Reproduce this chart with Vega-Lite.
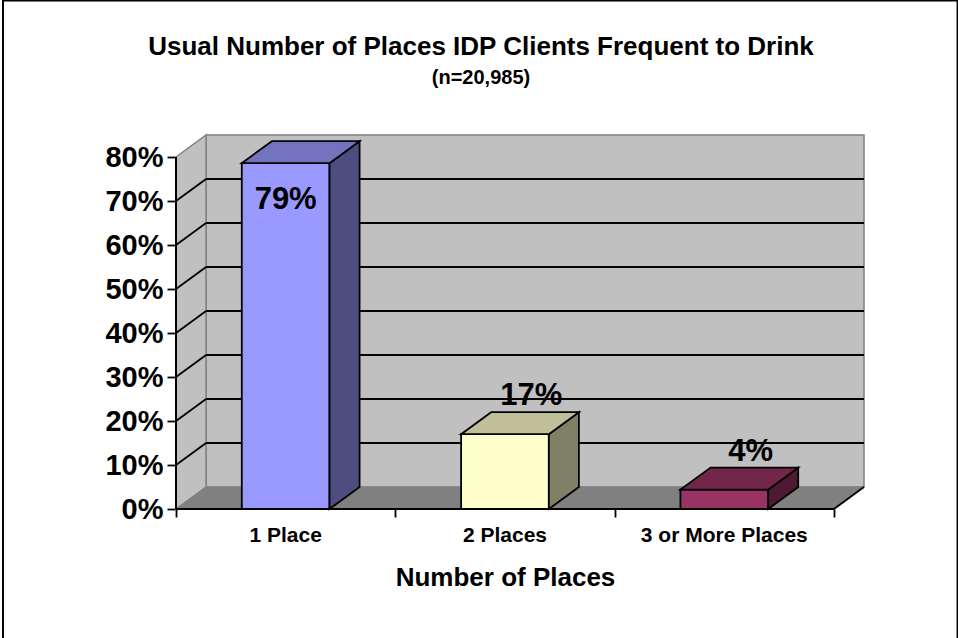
{
  "$schema": "https://vega.github.io/schema/vega-lite/v6.json",
  "autosize": {"type": "none"},
  "padding": {"left": 176, "top": 135, "right": 94, "bottom": 129},
  "width": 688,
  "height": 374,
  "background": "white",
  "config": {"view": {"stroke": null}, "font": "Liberation Sans"},
  "title": {
    "text": "Usual Number of Places IDP Clients Frequent to Drink",
    "subtitle": "(n=20,985)",
    "anchor": "middle",
    "frame": "group",
    "dx": -39,
    "font": "Liberation Sans",
    "fontSize": 26,
    "fontWeight": "bold",
    "color": "black",
    "subtitleFont": "Liberation Sans",
    "subtitleFontSize": 20,
    "subtitleFontWeight": "bold",
    "subtitleColor": "black",
    "subtitlePadding": 8,
    "offset": -89
  },
  "data": {
    "values": [
      {"place": "1 Place", "idx": 0, "pct": 78.6},
      {"place": "2 Places", "idx": 1, "pct": 17.0},
      {"place": "3 or More Places", "idx": 2, "pct": 4.4}
    ]
  },
  "resolve": {"scale": {"fill": "independent"}},
  "layer": [
    {
      "data": {"values": [{}]},
      "mark": {"type": "rect", "fillOpacity": 0, "stroke": "black", "strokeWidth": 2},
      "encoding": {
        "x": {"datum": -0.7889, "type": "quantitative"},
        "x2": {"datum": 3.5636},
        "y": {"datum": 115.57, "type": "quantitative"},
        "y2": {"datum": -45}
      }
    },
    {
      "data": {"values": [{}]},
      "mark": {"type": "rect", "fill": "#C0C0C0", "stroke": "#808080", "strokeWidth": 1.5},
      "encoding": {
        "x": {"datum": 0.137, "type": "quantitative"},
        "x2": {"datum": 3.137},
        "y": {"datum": 5, "type": "quantitative"},
        "y2": {"datum": 85}
      }
    },
    {
      "data": {"values": [{"d": 0}, {"d": 1}]},
      "transform": [
        {"calculate": "datum.d * 0.137", "as": "wx"},
        {"calculate": "datum.d * 5", "as": "wlo"},
        {"calculate": "80 + datum.d * 5", "as": "whi"}
      ],
      "mark": {"type": "area", "orient": "vertical", "fill": "#C0C0C0", "stroke": "#808080", "strokeWidth": 1.5},
      "encoding": {
        "x": {"field": "wx", "type": "quantitative"},
        "y": {"field": "whi", "type": "quantitative"},
        "y2": {"field": "wlo"}
      }
    },
    {
      "data": {"values": [{"d": 0}, {"d": 1}]},
      "transform": [
        {"calculate": "datum.d * 5", "as": "fy"},
        {"calculate": "datum.d * 0.137", "as": "fx0"},
        {"calculate": "3 + datum.d * 0.137", "as": "fx1"}
      ],
      "mark": {"type": "area", "orient": "horizontal", "fill": "#808080", "stroke": "#808080", "strokeWidth": 1},
      "encoding": {
        "y": {"field": "fy", "type": "quantitative"},
        "x": {"field": "fx0", "type": "quantitative"},
        "x2": {"field": "fx1"}
      }
    },
    {
      "data": {"values": [{"v": 10}, {"v": 20}, {"v": 30}, {"v": 40}, {"v": 50}, {"v": 60}, {"v": 70}]},
      "transform": [{"calculate": "datum.v + 5", "as": "vb"}],
      "mark": {"type": "rule", "color": "black", "strokeWidth": 1.8},
      "encoding": {
        "x": {"datum": 0.137, "type": "quantitative"},
        "x2": {"datum": 3.137},
        "y": {"field": "vb", "type": "quantitative"}
      }
    },
    {
      "data": {"values": [{"v": 10}, {"v": 20}, {"v": 30}, {"v": 40}, {"v": 50}, {"v": 60}, {"v": 70}]},
      "transform": [{"calculate": "datum.v + 5", "as": "vb"}],
      "mark": {"type": "rule", "color": "black", "strokeWidth": 1.8},
      "encoding": {
        "x": {"datum": 0, "type": "quantitative"},
        "x2": {"datum": 0.137},
        "y": {"field": "v", "type": "quantitative"},
        "y2": {"field": "vb"}
      }
    },
    {
      "data": {"values": [{}]},
      "mark": {"type": "rule", "color": "black", "strokeWidth": 1.8},
      "encoding": {
        "x": {"datum": 3, "type": "quantitative"},
        "x2": {"datum": 3.137},
        "y": {"datum": 0, "type": "quantitative"},
        "y2": {"datum": 5}
      }
    },
    {
      "data": {"values": [{}]},
      "mark": {"type": "rule", "color": "black", "strokeWidth": 2},
      "encoding": {
        "x": {"datum": 0, "type": "quantitative"},
        "y": {"datum": 0, "type": "quantitative"},
        "y2": {"datum": 80}
      }
    },
    {
      "data": {"values": [{}]},
      "mark": {"type": "rule", "color": "black", "strokeWidth": 2},
      "encoding": {
        "x": {"datum": 0, "type": "quantitative"},
        "x2": {"datum": 3},
        "y": {"datum": 0, "type": "quantitative"}
      }
    },
    {
      "transform": [
        {"calculate": "datum.idx + 0.3", "as": "x0"},
        {"calculate": "datum.idx + 0.7", "as": "x1"}
      ],
      "mark": {"type": "rect", "stroke": "black", "strokeWidth": 1.8},
      "encoding": {
        "x": {
          "field": "x0", "type": "quantitative",
          "scale": {"domain": [0, 3.137], "nice": false, "zero": false},
          "axis": {
            "values": [0, 1, 2, 3], "labels": false, "domain": false, "grid": false,
            "ticks": true, "tickSize": 8, "tickColor": "black", "tickWidth": 1.8,
            "title": "Number of Places", "titleFont": "Liberation Sans", "titleFontSize": 26,
            "titleFontWeight": "bold", "titleColor": "black", "titlePadding": 47, "titleX": 329
          }
        },
        "x2": {"field": "x1"},
        "y": {
          "field": "pct", "type": "quantitative",
          "scale": {"domain": [0, 85], "nice": false, "zero": false},
          "axis": {
            "values": [0, 10, 20, 30, 40, 50, 60, 70, 80],
            "labelExpr": "datum.value + '%'",
            "labels": true, "ticks": true, "domain": false, "grid": false,
            "tickSize": 9, "tickColor": "black", "tickWidth": 1.8,
            "labelFont": "Liberation Sans", "labelFontSize": 29, "labelFontWeight": "bold",
            "labelColor": "black", "labelPadding": 4, "title": null
          }
        },
        "y2": {"datum": 0},
        "fill": {
          "field": "place", "type": "nominal", "legend": null,
          "scale": {"domain": ["1 Place", "2 Places", "3 or More Places"], "range": ["#9999FF", "#FFFFCC", "#993366"]}
        }
      }
    },
    {
      "transform": [
        {"calculate": "[0, 1]", "as": "d"},
        {"flatten": ["d"]},
        {"calculate": "datum.idx + 0.7 + datum.d * 0.137", "as": "sx"},
        {"calculate": "datum.d * 5", "as": "sy0"},
        {"calculate": "datum.pct + datum.d * 5", "as": "sy1"}
      ],
      "mark": {"type": "area", "orient": "vertical", "stroke": "black", "strokeWidth": 1.8},
      "encoding": {
        "x": {"field": "sx", "type": "quantitative"},
        "y": {"field": "sy1", "type": "quantitative"},
        "y2": {"field": "sy0"},
        "fill": {
          "field": "place", "type": "nominal", "legend": null,
          "scale": {"domain": ["1 Place", "2 Places", "3 or More Places"], "range": ["#4D4D80", "#808066", "#4D1933"]}
        }
      }
    },
    {
      "transform": [
        {"calculate": "[0, 1]", "as": "d"},
        {"flatten": ["d"]},
        {"calculate": "datum.idx + 0.3 + datum.d * 0.137", "as": "tx0"},
        {"calculate": "datum.idx + 0.7 + datum.d * 0.137", "as": "tx1"},
        {"calculate": "datum.pct + datum.d * 5", "as": "ty"}
      ],
      "mark": {"type": "area", "orient": "horizontal", "stroke": "black", "strokeWidth": 1.8},
      "encoding": {
        "y": {"field": "ty", "type": "quantitative"},
        "x": {"field": "tx0", "type": "quantitative"},
        "x2": {"field": "tx1"},
        "fill": {
          "field": "place", "type": "nominal", "legend": null,
          "scale": {"domain": ["1 Place", "2 Places", "3 or More Places"], "range": ["#7373BF", "#BFBF99", "#73264C"]}
        }
      }
    },
    {
      "transform": [
        {"filter": "datum.pct > 50"},
        {"calculate": "datum.idx + 0.5", "as": "lx"},
        {"calculate": "format(datum.pct, '.0f') + '%'", "as": "lbl"}
      ],
      "mark": {"type": "text", "font": "Liberation Sans", "fontSize": 31, "fontWeight": "bold", "color": "black", "align": "center", "baseline": "alphabetic", "dy": 46},
      "encoding": {
        "x": {"field": "lx", "type": "quantitative"},
        "y": {"field": "pct", "type": "quantitative"},
        "text": {"field": "lbl"}
      }
    },
    {
      "transform": [
        {"filter": "datum.pct <= 50"},
        {"calculate": "datum.idx + 0.62", "as": "lx"},
        {"calculate": "datum.pct + 5", "as": "ly"},
        {"calculate": "format(datum.pct, '.0f') + '%'", "as": "lbl"}
      ],
      "mark": {"type": "text", "font": "Liberation Sans", "fontSize": 31, "fontWeight": "bold", "color": "black", "align": "center", "baseline": "alphabetic", "dy": -7},
      "encoding": {
        "x": {"field": "lx", "type": "quantitative"},
        "y": {"field": "ly", "type": "quantitative"},
        "text": {"field": "lbl"}
      }
    },
    {
      "transform": [{"calculate": "datum.idx + 0.5", "as": "cx"}],
      "mark": {"type": "text", "font": "Liberation Sans", "fontSize": 21, "fontWeight": "bold", "color": "black", "align": "center", "baseline": "alphabetic", "dy": 33},
      "encoding": {
        "x": {"field": "cx", "type": "quantitative"},
        "y": {"datum": 0, "type": "quantitative"},
        "text": {"field": "place"}
      }
    }
  ]
}
